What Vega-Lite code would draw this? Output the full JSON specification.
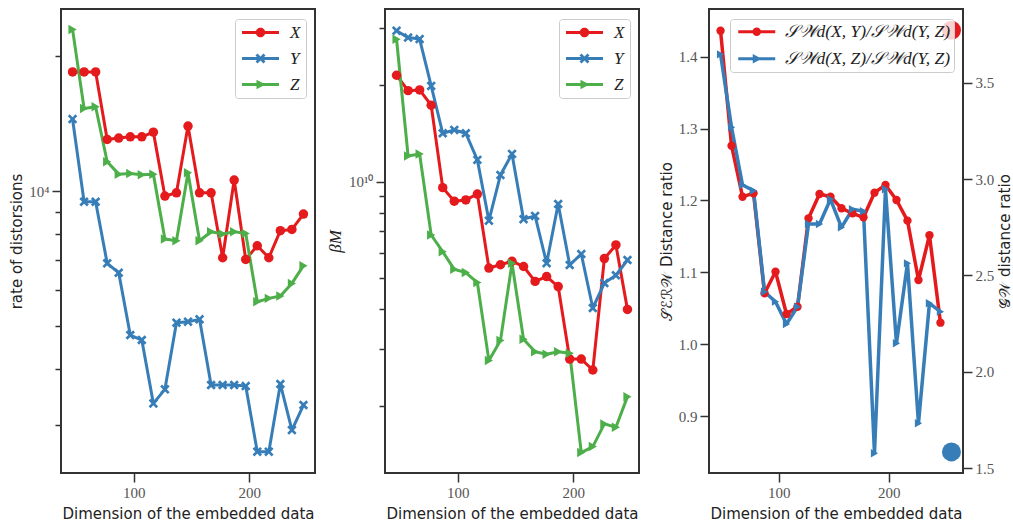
{
  "$schema": "https://vega.github.io/schema/vega-lite/v6.json",
  "background": "white",
  "padding": {"left": 8, "top": 8, "right": 2, "bottom": 0},
  "spacing": 70,
  "bounds": "flush",
  "resolve": {"scale": {"color": "independent", "shape": "independent"}, "legend": {"color": "independent", "shape": "independent"}},
  "datasets": {
    "p1": [
      {"dim": 47, "series": "X", "v": 18450}, {"dim": 57, "series": "X", "v": 18450}, {"dim": 67, "series": "X", "v": 18450},
      {"dim": 77, "series": "X", "v": 13040}, {"dim": 87, "series": "X", "v": 13130}, {"dim": 97, "series": "X", "v": 13220},
      {"dim": 107, "series": "X", "v": 13220}, {"dim": 117, "series": "X", "v": 13540}, {"dim": 127, "series": "X", "v": 9746},
      {"dim": 137, "series": "X", "v": 9913}, {"dim": 147, "series": "X", "v": 13965}, {"dim": 157, "series": "X", "v": 9913},
      {"dim": 167, "series": "X", "v": 9913}, {"dim": 177, "series": "X", "v": 7098}, {"dim": 187, "series": "X", "v": 10582},
      {"dim": 197, "series": "X", "v": 7038}, {"dim": 207, "series": "X", "v": 7550}, {"dim": 217, "series": "X", "v": 7098},
      {"dim": 227, "series": "X", "v": 8157}, {"dim": 237, "series": "X", "v": 8212}, {"dim": 247, "series": "X", "v": 8885},
      {"dim": 47, "series": "Y", "v": 14480}, {"dim": 57, "series": "Y", "v": 9466}, {"dim": 67, "series": "Y", "v": 9466},
      {"dim": 77, "series": "Y", "v": 6896}, {"dim": 87, "series": "Y", "v": 6572}, {"dim": 97, "series": "Y", "v": 4771},
      {"dim": 107, "series": "Y", "v": 4650}, {"dim": 117, "series": "Y", "v": 3357}, {"dim": 127, "series": "Y", "v": 3608},
      {"dim": 137, "series": "Y", "v": 5083}, {"dim": 147, "series": "Y", "v": 5109}, {"dim": 157, "series": "Y", "v": 5171},
      {"dim": 167, "series": "Y", "v": 3690}, {"dim": 177, "series": "Y", "v": 3690}, {"dim": 187, "series": "Y", "v": 3690},
      {"dim": 197, "series": "Y", "v": 3670}, {"dim": 207, "series": "Y", "v": 2619}, {"dim": 217, "series": "Y", "v": 2619},
      {"dim": 227, "series": "Y", "v": 3709}, {"dim": 237, "series": "Y", "v": 2927}, {"dim": 247, "series": "Y", "v": 3329},
      {"dim": 47, "series": "Z", "v": 22960}, {"dim": 57, "series": "Z", "v": 15290}, {"dim": 67, "series": "Z", "v": 15430},
      {"dim": 77, "series": "Z", "v": 11630}, {"dim": 87, "series": "Z", "v": 10910}, {"dim": 97, "series": "Z", "v": 10950},
      {"dim": 107, "series": "Z", "v": 10880}, {"dim": 117, "series": "Z", "v": 10910}, {"dim": 127, "series": "Z", "v": 7815},
      {"dim": 137, "series": "Z", "v": 7746}, {"dim": 147, "series": "Z", "v": 10987}, {"dim": 157, "series": "Z", "v": 7746},
      {"dim": 167, "series": "Z", "v": 8114}, {"dim": 177, "series": "Z", "v": 8017}, {"dim": 187, "series": "Z", "v": 8114},
      {"dim": 197, "series": "Z", "v": 8045}, {"dim": 207, "series": "Z", "v": 5662}, {"dim": 217, "series": "Z", "v": 5760},
      {"dim": 227, "series": "Z", "v": 5830}, {"dim": 237, "series": "Z", "v": 6220}, {"dim": 247, "series": "Z", "v": 6814}
    ],
    "p2": [
      {"dim": 47, "series": "X", "v": 2.145e10}, {"dim": 57, "series": "X", "v": 1.921e10}, {"dim": 67, "series": "X", "v": 1.931e10},
      {"dim": 77, "series": "X", "v": 1.73e10}, {"dim": 87, "series": "X", "v": 9.58e9}, {"dim": 97, "series": "X", "v": 8.69e9},
      {"dim": 107, "series": "X", "v": 8.77e9}, {"dim": 117, "series": "X", "v": 9.15e9}, {"dim": 127, "series": "X", "v": 5.38e9},
      {"dim": 137, "series": "X", "v": 5.51e9}, {"dim": 147, "series": "X", "v": 5.65e9}, {"dim": 157, "series": "X", "v": 5.44e9},
      {"dim": 167, "series": "X", "v": 4.89e9}, {"dim": 177, "series": "X", "v": 5.06e9}, {"dim": 187, "series": "X", "v": 4.71e9},
      {"dim": 197, "series": "X", "v": 2.8e9}, {"dim": 207, "series": "X", "v": 2.8e9}, {"dim": 217, "series": "X", "v": 2.59e9},
      {"dim": 227, "series": "X", "v": 5.76e9}, {"dim": 237, "series": "X", "v": 6.35e9}, {"dim": 247, "series": "X", "v": 4.0e9},
      {"dim": 47, "series": "Y", "v": 2.953e10}, {"dim": 57, "series": "Y", "v": 2.81e10}, {"dim": 67, "series": "Y", "v": 2.78e10},
      {"dim": 77, "series": "Y", "v": 1.987e10}, {"dim": 87, "series": "Y", "v": 1.415e10}, {"dim": 97, "series": "Y", "v": 1.449e10},
      {"dim": 107, "series": "Y", "v": 1.415e10}, {"dim": 117, "series": "Y", "v": 1.169e10}, {"dim": 127, "series": "Y", "v": 7.56e9},
      {"dim": 137, "series": "Y", "v": 1.049e10}, {"dim": 147, "series": "Y", "v": 1.22e10}, {"dim": 157, "series": "Y", "v": 7.64e9},
      {"dim": 167, "series": "Y", "v": 7.82e9}, {"dim": 177, "series": "Y", "v": 5.57e9}, {"dim": 187, "series": "Y", "v": 8.52e9},
      {"dim": 197, "series": "Y", "v": 5.5e9}, {"dim": 207, "series": "Y", "v": 5.95e9}, {"dim": 217, "series": "Y", "v": 4.04e9},
      {"dim": 227, "series": "Y", "v": 4.83e9}, {"dim": 237, "series": "Y", "v": 5.11e9}, {"dim": 247, "series": "Y", "v": 5.7e9},
      {"dim": 47, "series": "Z", "v": 2.777e10}, {"dim": 57, "series": "Z", "v": 1.202e10}, {"dim": 67, "series": "Z", "v": 1.22e10},
      {"dim": 77, "series": "Z", "v": 6.82e9}, {"dim": 87, "series": "Z", "v": 6.05e9}, {"dim": 97, "series": "Z", "v": 5.33e9},
      {"dim": 107, "series": "Z", "v": 5.21e9}, {"dim": 117, "series": "Z", "v": 4.85e9}, {"dim": 127, "series": "Z", "v": 2.77e9},
      {"dim": 137, "series": "Z", "v": 3.2e9}, {"dim": 147, "series": "Z", "v": 5.57e9}, {"dim": 157, "series": "Z", "v": 3.23e9},
      {"dim": 167, "series": "Z", "v": 2.95e9}, {"dim": 177, "series": "Z", "v": 2.9e9}, {"dim": 187, "series": "Z", "v": 2.95e9},
      {"dim": 197, "series": "Z", "v": 2.92e9}, {"dim": 207, "series": "Z", "v": 1.432e9}, {"dim": 217, "series": "Z", "v": 1.495e9},
      {"dim": 227, "series": "Z", "v": 1.759e9}, {"dim": 237, "series": "Z", "v": 1.718e9}, {"dim": 247, "series": "Z", "v": 2.139e9}
    ],
    "p3": [
      {"dim": 47, "series": "XY", "v": 1.4362}, {"dim": 57, "series": "XY", "v": 1.2762}, {"dim": 67, "series": "XY", "v": 1.2052},
      {"dim": 77, "series": "XY", "v": 1.2099}, {"dim": 87, "series": "XY", "v": 1.0708}, {"dim": 97, "series": "XY", "v": 1.1008},
      {"dim": 107, "series": "XY", "v": 1.042}, {"dim": 117, "series": "XY", "v": 1.0521}, {"dim": 127, "series": "XY", "v": 1.1751},
      {"dim": 137, "series": "XY", "v": 1.209}, {"dim": 147, "series": "XY", "v": 1.2052}, {"dim": 157, "series": "XY", "v": 1.1891},
      {"dim": 167, "series": "XY", "v": 1.1821}, {"dim": 177, "series": "XY", "v": 1.1765}, {"dim": 187, "series": "XY", "v": 1.2108},
      {"dim": 197, "series": "XY", "v": 1.2215}, {"dim": 207, "series": "XY", "v": 1.2006}, {"dim": 217, "series": "XY", "v": 1.1719},
      {"dim": 227, "series": "XY", "v": 1.0893}, {"dim": 237, "series": "XY", "v": 1.1515}, {"dim": 247, "series": "XY", "v": 1.0299},
      {"dim": 47, "series": "XZ", "v": 1.4033}, {"dim": 57, "series": "XZ", "v": 1.3018}, {"dim": 67, "series": "XZ", "v": 1.2215},
      {"dim": 77, "series": "XZ", "v": 1.2136}, {"dim": 87, "series": "XZ", "v": 1.073}, {"dim": 97, "series": "XZ", "v": 1.0591},
      {"dim": 107, "series": "XZ", "v": 1.028}, {"dim": 117, "series": "XZ", "v": 1.0521}, {"dim": 127, "series": "XZ", "v": 1.1672},
      {"dim": 137, "series": "XZ", "v": 1.1672}, {"dim": 147, "series": "XZ", "v": 1.2016}, {"dim": 157, "series": "XZ", "v": 1.1626},
      {"dim": 167, "series": "XZ", "v": 1.1877}, {"dim": 177, "series": "XZ", "v": 1.1849}, {"dim": 187, "series": "XZ", "v": 0.8482},
      {"dim": 197, "series": "XZ", "v": 1.2155}, {"dim": 207, "series": "XZ", "v": 1.0012}, {"dim": 217, "series": "XZ", "v": 1.1125},
      {"dim": 227, "series": "XZ", "v": 0.8899}, {"dim": 237, "series": "XZ", "v": 1.0569}, {"dim": 247, "series": "XZ", "v": 1.0452}
    ],
    "p3dots": [
      {"dim": 257, "series": "XY", "g": 3.772},
      {"dim": 257, "series": "XZ", "g": 1.585}
    ]
  },
  "config": {
    "view": {"stroke": "#333333", "strokeWidth": 2},
    "axis": {
      "domain": false, "grid": false,
      "tickColor": "#333333", "tickWidth": 1.5, "tickSize": 9,
      "labelFont": "Liberation Serif", "labelFontSize": 15, "labelColor": "#555555", "labelPadding": 3,
      "titleFont": "DejaVu Sans", "titleFontSize": 15, "titleFontWeight": "normal", "titleColor": "#222222"
    },
    "legend": {
      "orient": "top-right", "offset": 9.5, "direction": "vertical",
      "padding": 5, "fillColor": "rgba(255,255,255,0.8)", "strokeColor": "#cccccc", "cornerRadius": 3,
      "symbolSize": 100, "symbolOffset": 12, "labelOffset": 21, "rowPadding": 8, "labelLimit": 300,
      "labelFont": "Liberation Serif", "labelFontStyle": "italic", "labelFontSize": 17, "labelColor": "#222222"
    }
  },
  "hconcat": [
    {
      "width": 254, "height": 464,
      "data": {"name": "p1"},
      "encoding": {
        "x": {"field": "dim", "type": "quantitative", "scale": {"domain": [37, 257], "nice": false, "zero": false},
              "axis": {"title": "Dimension of the embedded data", "values": [100, 200], "format": "d", "titlePadding": 6}},
        "y": {"field": "v", "type": "quantitative", "scale": {"type": "log", "domain": [2347, 25500], "nice": false},
              "axis": {"title": "rate of distorsions", "values": [3000, 4000, 5000, 6000, 7000, 8000, 9000, 10000, 20000],
                       "labelExpr": "datum.value == 10000 ? '10⁴' : ''",
                       "tickSize": {"condition": {"test": "datum.value == 10000", "value": 9}, "value": 6},
                       "titlePadding": 4}}
      },
      "layer": [
        {"mark": {"type": "line", "strokeWidth": 3, "strokeJoin": "round"},
         "encoding": {"color": {"field": "series", "type": "nominal", "legend": null,
           "scale": {"domain": ["X", "Y", "Z"], "range": ["#e41a1c", "#377eb8", "#4daf4a"]}}}},
        {"mark": {"type": "point", "filled": true, "opacity": 1, "size": 90},
         "encoding": {
           "color": {"field": "series", "type": "nominal", "legend": null,
             "scale": {"domain": ["X", "Y", "Z"], "range": ["#e41a1c", "#377eb8", "#4daf4a"]}},
           "shape": {"field": "series", "type": "nominal", "legend": null,
             "scale": {"domain": ["X", "Y", "Z"], "range": ["circle", "M-1,-0.6L-0.6,-1L0,-0.4L0.6,-1L1,-0.6L0.4,0L1,0.6L0.6,1L0,0.4L-0.6,1L-1,0.6L-0.4,0Z", "triangle-right"]}}}},
        {"transform": [{"filter": "datum.dim < 0"}],
         "mark": {"type": "point", "filled": true, "opacity": 1},
         "encoding": {
           "color": {"field": "series", "type": "nominal", "legend": {"title": null},
             "scale": {"domain": ["X", "Y", "Z"], "range": ["#e41a1c", "#377eb8", "#4daf4a"]}},
           "shape": {"field": "series", "type": "nominal", "legend": {"title": null},
             "scale": {"domain": ["X", "Y", "Z"], "range": [
               "M-3.7,-0.3H3.7V0.3H-3.7Z M-0.95,0A0.95,0.95 0 1,1 0.95,0A0.95,0.95 0 1,1 -0.95,0Z",
               "M-3.7,-0.3H3.7V0.3H-3.7Z M-1,-0.6L-0.6,-1L0,-0.4L0.6,-1L1,-0.6L0.4,0L1,0.6L0.6,1L0,0.4L-0.6,1L-1,0.6L-0.4,0Z",
               "M-3.7,-0.3H3.7V0.3H-3.7Z M-0.8,-0.95L1,0L-0.8,0.95Z"]}}}}
      ],
      "resolve": {"scale": {"color": "independent", "shape": "independent"}, "legend": {"color": "independent", "shape": "independent"}}
    },
    {
      "width": 254, "height": 464,
      "data": {"name": "p2"},
      "encoding": {
        "x": {"field": "dim", "type": "quantitative", "scale": {"domain": [37, 257], "nice": false, "zero": false},
              "axis": {"title": "Dimension of the embedded data", "values": [100, 200], "format": "d", "titlePadding": 6}},
        "y": {"field": "v", "type": "quantitative", "scale": {"type": "log", "domain": [1.237e9, 3.45e10], "nice": false},
              "axis": {"title": "βM", "titleFont": "Liberation Serif", "titleFontStyle": "italic", "titleFontSize": 17,
                       "values": [2e9, 3e9, 4e9, 5e9, 6e9, 7e9, 8e9, 9e9, 1e10, 2e10, 3e10],
                       "labelExpr": "datum.value == 1e10 ? '10¹⁰' : ''",
                       "tickSize": {"condition": {"test": "datum.value == 1e10", "value": 9}, "value": 6},
                       "titlePadding": 4}}
      },
      "layer": [
        {"mark": {"type": "line", "strokeWidth": 3, "strokeJoin": "round"},
         "encoding": {"color": {"field": "series", "type": "nominal", "legend": null,
           "scale": {"domain": ["X", "Y", "Z"], "range": ["#e41a1c", "#377eb8", "#4daf4a"]}}}},
        {"mark": {"type": "point", "filled": true, "opacity": 1, "size": 90},
         "encoding": {
           "color": {"field": "series", "type": "nominal", "legend": null,
             "scale": {"domain": ["X", "Y", "Z"], "range": ["#e41a1c", "#377eb8", "#4daf4a"]}},
           "shape": {"field": "series", "type": "nominal", "legend": null,
             "scale": {"domain": ["X", "Y", "Z"], "range": ["circle", "M-1,-0.6L-0.6,-1L0,-0.4L0.6,-1L1,-0.6L0.4,0L1,0.6L0.6,1L0,0.4L-0.6,1L-1,0.6L-0.4,0Z", "triangle-right"]}}}},
        {"transform": [{"filter": "datum.dim < 0"}],
         "mark": {"type": "point", "filled": true, "opacity": 1},
         "encoding": {
           "color": {"field": "series", "type": "nominal", "legend": {"title": null},
             "scale": {"domain": ["X", "Y", "Z"], "range": ["#e41a1c", "#377eb8", "#4daf4a"]}},
           "shape": {"field": "series", "type": "nominal", "legend": {"title": null},
             "scale": {"domain": ["X", "Y", "Z"], "range": [
               "M-3.7,-0.3H3.7V0.3H-3.7Z M-0.95,0A0.95,0.95 0 1,1 0.95,0A0.95,0.95 0 1,1 -0.95,0Z",
               "M-3.7,-0.3H3.7V0.3H-3.7Z M-1,-0.6L-0.6,-1L0,-0.4L0.6,-1L1,-0.6L0.4,0L1,0.6L0.6,1L0,0.4L-0.6,1L-1,0.6L-0.4,0Z",
               "M-3.7,-0.3H3.7V0.3H-3.7Z M-0.8,-0.95L1,0L-0.8,0.95Z"]}}}}
      ],
      "resolve": {"scale": {"color": "independent", "shape": "independent"}, "legend": {"color": "independent", "shape": "independent"}}
    },
    {
      "width": 254, "height": 464,
      "encoding": {
        "x": {"field": "dim", "type": "quantitative", "scale": {"domain": [36.5, 267.5], "nice": false, "zero": false},
              "axis": {"title": "Dimension of the embedded data", "values": [100, 200], "format": "d", "titlePadding": 6}}
      },
      "layer": [
        {
          "data": {"name": "p3"},
          "encoding": {
            "y": {"field": "v", "type": "quantitative", "scale": {"domain": [0.8207, 1.4664], "nice": false, "zero": false},
                  "axis": {"title": "𝒮ℰℛ𝒲 Distance ratio", "values": [0.9, 1.0, 1.1, 1.2, 1.3, 1.4], "format": ".1f", "titlePadding": 4}},
            "color": {"field": "series", "type": "nominal", "legend": null,
              "scale": {"domain": ["XY", "XZ"], "range": ["#e41a1c", "#377eb8"]}}
          },
          "layer": [
            {"mark": {"type": "line", "strokeWidth": 3.5, "strokeJoin": "round"}},
            {"mark": {"type": "point", "filled": true, "opacity": 1, "size": 70},
             "encoding": {"shape": {"field": "series", "type": "nominal", "legend": null,
               "scale": {"domain": ["XY", "XZ"], "range": ["circle", "triangle-right"]}}}}
          ]
        },
        {
          "data": {"name": "p3dots"},
          "mark": {"type": "circle", "opacity": 1, "size": 361},
          "encoding": {
            "y": {"field": "g", "type": "quantitative", "scale": {"domain": [1.4756, 3.882], "nice": false, "zero": false},
                  "axis": {"orient": "right", "title": "𝒢𝒲 distance ratio", "values": [1.5, 2.0, 2.5, 3.0, 3.5], "format": ".1f",
                           "titleAngle": 270, "titleBaseline": "top", "titlePadding": 4}},
            "color": {"field": "series", "type": "nominal", "legend": null,
              "scale": {"domain": ["XY", "XZ"], "range": ["#e41a1c", "#377eb8"]}}
          }
        },
        {
          "data": {"name": "p3"},
          "transform": [{"filter": "datum.dim < 0"}],
          "mark": {"type": "point", "filled": true, "opacity": 1},
          "encoding": {
            "color": {"field": "series", "type": "nominal",
              "scale": {"domain": ["XY", "XZ"], "range": ["#e41a1c", "#377eb8"]},
              "legend": {"title": null, "padding": 4, "symbolOffset": 14, "labelOffset": 19, "labelFontSize": 17.5,
                "labelExpr": "datum.value === 'XY' ? '𝒮𝒲d(X, Y)/𝒮𝒲d(Y, Z)' : '𝒮𝒲d(X, Z)/𝒮𝒲d(Y, Z)'"}},
            "shape": {"field": "series", "type": "nominal",
              "scale": {"domain": ["XY", "XZ"], "range": [
                "M-3.7,-0.3H3.7V0.3H-3.7Z M-0.85,0A0.85,0.85 0 1,1 0.85,0A0.85,0.85 0 1,1 -0.85,0Z",
                "M-3.7,-0.3H3.7V0.3H-3.7Z M-0.8,-0.95L1,0L-0.8,0.95Z"]},
              "legend": {"title": null, "padding": 4, "symbolOffset": 14, "labelOffset": 19, "labelFontSize": 17.5,
                "labelExpr": "datum.value === 'XY' ? '𝒮𝒲d(X, Y)/𝒮𝒲d(Y, Z)' : '𝒮𝒲d(X, Z)/𝒮𝒲d(Y, Z)'"}}
          }
        }
      ],
      "resolve": {"scale": {"y": "independent", "color": "independent", "shape": "independent"}, "axis": {"y": "independent"},
                  "legend": {"color": "independent", "shape": "independent"}}
    }
  ]
}
